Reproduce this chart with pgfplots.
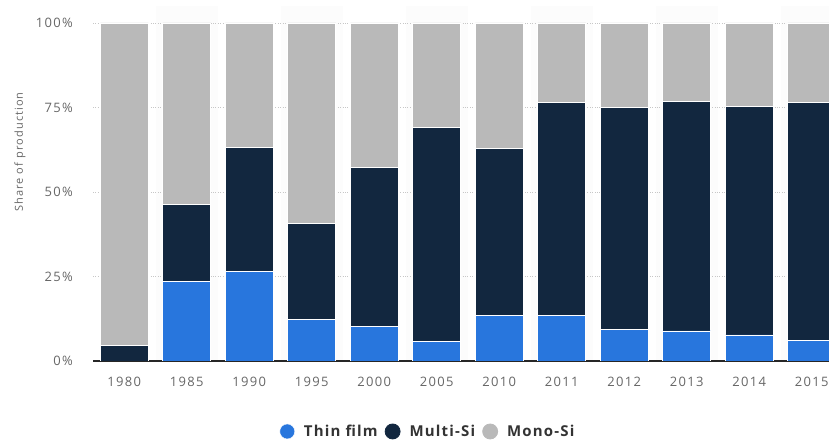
\documentclass[border=0pt]{standalone}
\usepackage{pgfplots}
\pgfplotsset{compat=1.18}
\usepackage{fontspec}
\setmainfont{Open Sans}
\newfontfamily\lsfont[LetterSpace=10]{Open Sans}
\newfontfamily\lgfont[LetterSpace=8]{Open Sans}
\definecolor{thin}{HTML}{2876DD}
\definecolor{multi}{HTML}{12273F}
\definecolor{mono}{HTML}{B9B9B9}
\definecolor{band}{HTML}{FCFCFC}
\definecolor{lbl}{HTML}{666666}
\definecolor{legtext}{HTML}{333333}
\pgfplotsset{
  layers/mylayers/.define layer set={axis background,axis grid,axis ticks,pre main,main,axis lines,axis tick labels,axis descriptions,axis foreground}{},
  frame/.style={at={(93pt,82pt)}, anchor=south west,
  scale only axis, width=750pt, height=354.9pt,
  xmin=-0.5, xmax=11.5, ymin=0, ymax=105},
}
\begin{document}
\begin{tikzpicture}[x=1pt,y=1pt]
\begin{axis}[frame, hide axis]
\fill[band] (axis cs:0.5,0) rectangle (axis cs:1.5,105);
\fill[band] (axis cs:2.5,0) rectangle (axis cs:3.5,105);
\fill[band] (axis cs:4.5,0) rectangle (axis cs:5.5,105);
\fill[band] (axis cs:6.5,0) rectangle (axis cs:7.5,105);
\fill[band] (axis cs:8.5,0) rectangle (axis cs:9.5,105);
\fill[band] (axis cs:10.5,0) rectangle (axis cs:11.5,105);
\end{axis}
\begin{axis}[
  frame,
  set layers=mylayers,
  ybar stacked, bar width=48pt,
  xtick={0,...,11},
  xticklabels={1980,1985,1990,1995,2000,2005,2010,2011,2012,2013,2014,2015},
  ytick={0,25,50,75,100},
  yticklabels={0\%,25\%,50\%,75\%,100\%},
  ymajorgrids,
  grid style={dotted, color=black!22, line width=0.7pt},
  axis x line*=bottom, axis y line*=left,
  y axis line style={draw=none},
  x axis line style={color=black!85, line width=1.2pt, -},
  major tick length=0pt,
  tick label style={font=\lsfont\fontsize{13}{13}\selectfont, text=lbl},
  xticklabel style={inner sep=0pt, anchor=north, yshift=-16pt},
  yticklabel style={inner sep=0pt, anchor=east, xshift=-20pt},
  legend style={at={(0.4467,-0.1986)}, anchor=center, draw=none, fill=none,
    legend columns=3, font=\lgfont\bfseries\fontsize{15}{15}\selectfont, text=legtext,
    /tikz/every even column/.append style={column sep=5pt}},
  legend cell align=left,
]
\addplot[fill=thin, draw=white, line width=0.8pt,
  legend image code/.code={\fill[thin] (0pt,0pt) circle (7.5pt);}]
  coordinates {(0,0) (1,23.5) (2,26.5) (3,12.2) (4,10.1) (5,5.9) (6,13.4) (7,13.4) (8,9.2) (9,8.9) (10,7.7) (11,6.2)};
\addplot[fill=multi, draw=white, line width=0.8pt,
  legend image code/.code={\fill[multi] (0pt,0pt) circle (7.5pt);}]
  coordinates {(0,4.7) (1,22.9) (2,36.7) (3,28.5) (4,47.1) (5,63.3) (6,49.4) (7,63.0) (8,65.7) (9,67.8) (10,67.5) (11,70.4)};
\addplot[fill=mono, draw=white, line width=0.8pt,
  legend image code/.code={\fill[mono] (0pt,0pt) circle (7.5pt);}]
  coordinates {(0,95.3) (1,53.6) (2,36.8) (3,59.3) (4,42.8) (5,30.8) (6,37.2) (7,23.6) (8,25.1) (9,23.3) (10,24.8) (11,23.4)};
\legend{\rule{7pt}{0pt}Thin film, \rule{7pt}{0pt}Multi-Si, \rule{7pt}{0pt}Mono-Si}
\end{axis}
\node[rotate=90, font=\lsfont\fontsize{11}{11}\selectfont, text=lbl] at (20,291) {Share of production};
\pgfresetboundingbox
\path[use as bounding box] (0,0) rectangle (829,443);
\end{tikzpicture}
\end{document}
